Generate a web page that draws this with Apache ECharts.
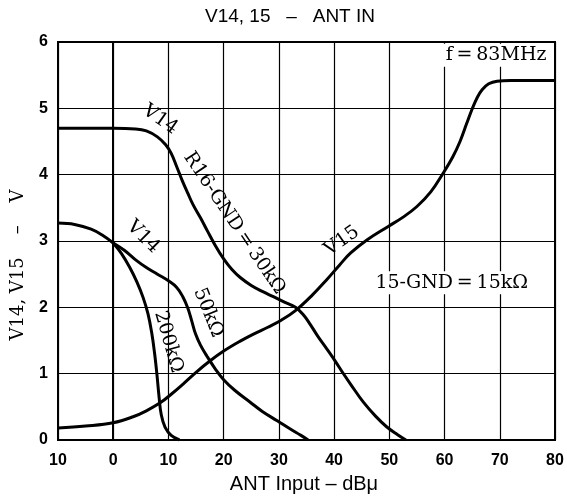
<!DOCTYPE html>
<html>
<head>
<meta charset="utf-8">
<script src="https://cdn.jsdelivr.net/npm/echarts@6/dist/echarts.min.js"></script>
<style>html,body{margin:0;padding:0;background:#fff}#c{width:567px;height:498px}</style>
</head>
<body>
<div id="c"></div>
<script>
// ---- data ----
var xTickLabels = ['10','0','10','20','30','40','50','60','70','80'];
var yTickLabels = ['0','1','2','3','4','5','6'];

// V14 with R16-GND = 30k
var v14_30k = [[-10,4.7],[0,4.7],[4,4.69],[6,4.66],[8,4.57],[9.5,4.45],[10.5,4.32],[11.5,4.12],[12.5,3.91],[13.5,3.72],[14.5,3.54],[15.8,3.35],[17,3.16],[18.5,2.93],[20,2.73],[21.5,2.57],[23,2.45],[25,2.33],[27,2.24],[29,2.16],[31,2.08],[33,2.0],[34.5,1.88],[35.7,1.74],[37,1.57],[38.7,1.37],[40.2,1.19],[41.6,1.01],[43,0.84],[45.3,0.57],[47.5,0.36],[49.5,0.2],[51.5,0.08],[53,0.0]];
// V14 common part (before branch)
var v14_common = [[-10,3.27],[-7,3.25],[-4,3.18],[-2,3.09],[0,2.97]];
// V14 with 50k
var v14_50k = [[0,2.97],[2,2.86],[4,2.72],[6,2.6],[8,2.5],[10,2.4],[11.5,2.3],[12.6,2.16],[13.5,1.99],[14.2,1.8],[14.9,1.6],[15.8,1.43],[17,1.26],[18.5,1.07],[20,0.91],[22,0.75],[24.8,0.57],[27,0.43],[29.7,0.29],[32,0.17],[34,0.07],[35.3,0.0]];
// V14 with 200k
var v14_200k = [[0,2.97],[1.5,2.81],[3,2.6],[4.3,2.38],[5.4,2.15],[6.3,1.9],[7,1.6],[7.5,1.3],[7.9,1.0],[8.3,0.65],[8.7,0.38],[9.4,0.19],[10.5,0.07],[12,0.0]];
// V15 with 15-GND = 15k
var v15 = [[-10,0.18],[-5,0.21],[0,0.26],[3.6,0.35],[6,0.44],[8.5,0.56],[10.5,0.69],[12.6,0.84],[15,1.02],[17.5,1.19],[20,1.34],[23,1.49],[25.5,1.6],[28,1.7],[30.5,1.81],[33,1.95],[36,2.18],[38.7,2.42],[41,2.64],[43,2.82],[46,3.02],[49.8,3.22],[52.5,3.36],[55,3.52],[57.5,3.74],[59.8,4.03],[61.5,4.27],[62.8,4.5],[64,4.77],[65,4.99],[65.9,5.16],[66.8,5.28],[68,5.37],[69.5,5.41],[72,5.42],[80,5.42]];

// annotations: text, anchor in data coords, rotation (deg, clockwise positive), align
var notes = [
  {t:'V14', x:8.5, y:4.83, r:35, a:'center'},
  {t:'R16-GND\u2009=\u200930k\u03A9', x:21.9, y:3.27, r:56, a:'center'},
  {t:'V14', x:5.4, y:3.06, r:45, a:'center'},
  {t:'50k\u03A9', x:17.2, y:1.92, r:68, a:'center'},
  {t:'200k\u03A9', x:10.0, y:1.48, r:74, a:'center'},
  {t:'V15', x:41.4, y:3.0, r:-35, a:'center'},
  {t:'f\u2009=\u200983MHz', x:79.0, y:5.8, r:0, a:'right'},
  {t:'15-GND\u2009=\u200915k\u03A9', x:61.3, y:2.37, r:0, a:'center'}
];

var chart = echarts.init(document.getElementById('c'), null, {renderer:'canvas'});
function line(name, data){
  return {name:name, type:'line', data:data, smooth:0.4, showSymbol:false, symbol:'none',
    lineStyle:{color:'#000', width:3}, z:5, animation:false};
}
var serif = '"DejaVu Serif", "Liberation Serif", serif';
var option = {
  animation:false,
  backgroundColor:'#fff',
  grid:{left:58, right:12, top:42, bottom:58, show:true, borderColor:'#000', borderWidth:2},
  xAxis:{type:'value', min:-10, max:80, interval:10,
    axisLine:{show:true, lineStyle:{color:'#000', width:2}},
    axisTick:{show:false},
    splitLine:{show:true, lineStyle:{color:'#000', width:1.2}},
    axisLabel:{color:'#000', fontFamily:'Liberation Sans', fontWeight:'bold', fontSize:16, margin:13,
      formatter:function(v){ var i=Math.round((v+10)/10); return xTickLabels[i]; }}
  },
  yAxis:{type:'value', min:0, max:6, interval:1,
    axisLine:{show:true, lineStyle:{color:'#000', width:2}},
    axisTick:{show:false},
    splitLine:{show:true, lineStyle:{color:'#000', width:1.2}},
    axisLabel:{color:'#000', fontFamily:'Liberation Sans', fontWeight:'bold', fontSize:16, margin:10,
      formatter:function(v){ return yTickLabels[Math.round(v)]; }}
  },
  series:[line('V14 30k', v14_30k), line('V14', v14_common), line('V14 50k', v14_50k), line('V14 200k', v14_200k), line('V15', v15)]
};
chart.setOption(option);

var g = [
  {type:'text', x:290, y:17, style:{text:'V14, 15   \u2013   ANT IN', fill:'#000', font:'19px "Liberation Sans", Arial, sans-serif', align:'center', verticalAlign:'middle'}},
  {type:'text', x:304, y:484, style:{text:'ANT Input \u2013 dB\u03BC', fill:'#000', font:'20px "Liberation Sans", Arial, sans-serif', align:'center', verticalAlign:'middle'}},
  {type:'text', x:18, y:265, rotation:Math.PI/2, style:{text:'V14, V15    \u2013    V', fill:'#000', font:'18px ' + serif, align:'center', verticalAlign:'middle'}}
];
notes.forEach(function(n){
  var p = chart.convertToPixel({gridIndex:0}, [n.x, n.y]);
  g.push({type:'text', x:p[0], y:p[1], rotation:-n.r*Math.PI/180, z:10,
    style:{text:n.t, fill:'#000', font:'19px ' + serif, align:n.a, verticalAlign:'middle',
      backgroundColor: n.r===0 ? '#fff' : 'transparent', padding: n.r===0 ? [2,3] : 0}});
});
chart.setOption({graphic:g});
</script>
</body>
</html>
